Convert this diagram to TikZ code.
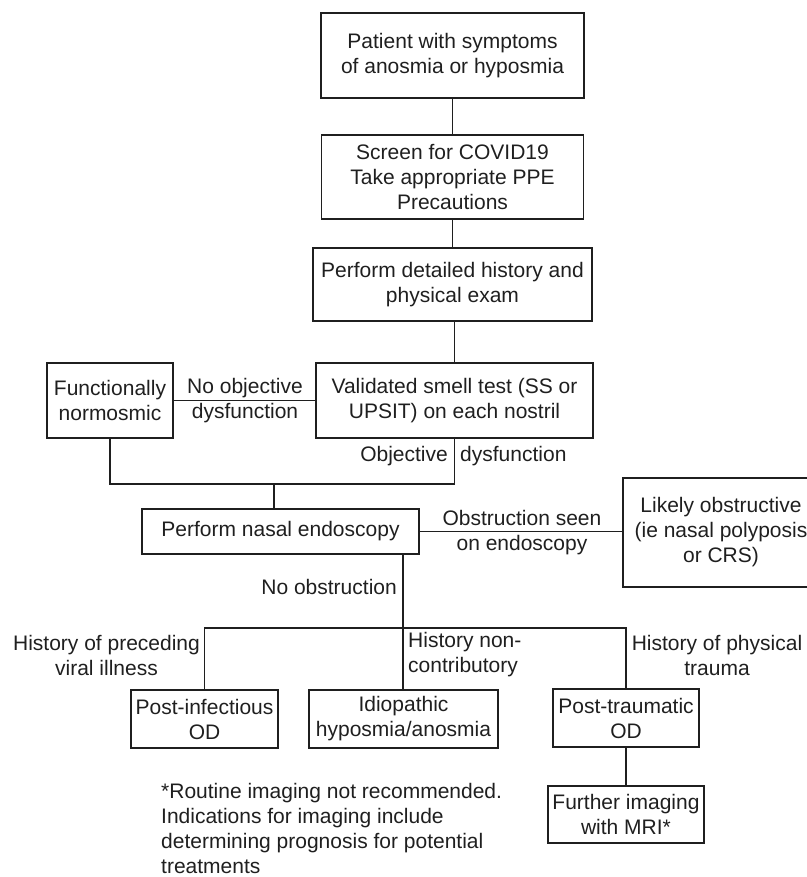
\documentclass[tikz,border=0pt]{standalone}
\usepackage{fontspec}
\setmainfont{Liberation Sans}
\usetikzlibrary{positioning}
\colorlet{penColor}{black!88}
\tikzset{
  box/.style={draw=penColor, line width=1.4pt, align=center, inner sep=0pt,
    text=penColor, font=\fontsize{21}{25}\selectfont},
  lbl/.style={align=center, inner sep=0pt, text=penColor,
    font=\fontsize{21}{25}\selectfont},
  link/.style={penColor, line width=1.4pt}
}
\begin{document}
\begin{tikzpicture}[x=1pt,y=-1pt]
\useasboundingbox (0,0) rectangle (806,877);
% main column
\node [box, minimum width=263, minimum height=85] (pat) at (452.5,55.5) {Patient with symptoms\\of anosmia or hyposmia};
\node [box, minimum width=262, minimum height=84] (scr) at (452.5,177) {Screen for COVID19\\Take appropriate PPE\\Precautions};
\node [box, minimum width=279, minimum height=73] (hist) at (452.5,284.5) {Perform detailed history and\\physical exam};
\node [box, minimum width=277, minimum height=75] (test) at (454.5,400.5) {Validated smell test (SS or\\UPSIT) on each nostril};
\node [box, minimum width=126, minimum height=75] (func) at (110,400.5) {Functionally\\normosmic};
\node [box, minimum width=277, minimum height=45] (endo) at (280.5,531.5) {Perform nasal endoscopy};
\node [box, minimum width=196, minimum height=109] (obst) at (721,532.5) {Likely obstructive\\(ie nasal polyposis\\or CRS)};
% outcomes
\node [box, minimum width=147, minimum height=58] (inf) at (204.5,719) {Post-infectious\\OD};
\node [box, minimum width=189, minimum height=58] (idio) at (403.5,719) {Idiopathic\\hyposmia/anosmia};
\node [box, minimum width=146, minimum height=58] (trau) at (626,718) {Post-traumatic\\OD};
\node [box, minimum width=156, minimum height=57] (mri) at (626,814.5) {Further imaging\\with MRI*};
\coordinate (join) at (274,484);
\coordinate (split) at (403,628);
% connectors
\draw [link] (pat) -- (scr);
\draw [link] (scr) -- (scr |- hist.north);
\draw [link] (test.north) -- (test.north |- hist.south);
\draw [link] (func.east) -- (test.west);
\draw [link] (func.south) |- (join) -| (test.south);
\draw [link] (join) -- (join |- endo.north);
\draw [link] (endo.east) -- (endo.east -| obst.west);
\draw [link] (endo.south -| split) -- (split);
\draw [link] (inf.north) |- (split) -| (trau.north);
\draw [link] (split) -- (split |- idio.north);
\draw [link] (trau) -- (mri);
% labels
\node [lbl] (lnoobj) at (245,400.5) {No objective\\dysfunction};
\node [lbl, anchor=east] (lobj) at (448,456) {Objective};
\node [lbl, anchor=west] (ldys) at (460,456) {dysfunction};
\node [lbl] (lseen) at (522,532.5) {Obstruction seen\\on endoscopy};
\node [lbl, anchor=east] (lnoobs) at (397,587) {No obstruction};
\node [lbl] (lviral) at (106.5,655) {History of preceding\\viral illness};
\node [lbl, align=left, anchor=west] (lnon) at (408,655) {History non-\\contributory};
\node [lbl] (ltrau) at (717,655) {History of physical\\trauma};
\node [lbl, align=left, anchor=west] (note) at (161,828) {*Routine imaging not recommended.\\Indications for imaging include\\determining prognosis for potential\\treatments};
\end{tikzpicture}
\end{document}
